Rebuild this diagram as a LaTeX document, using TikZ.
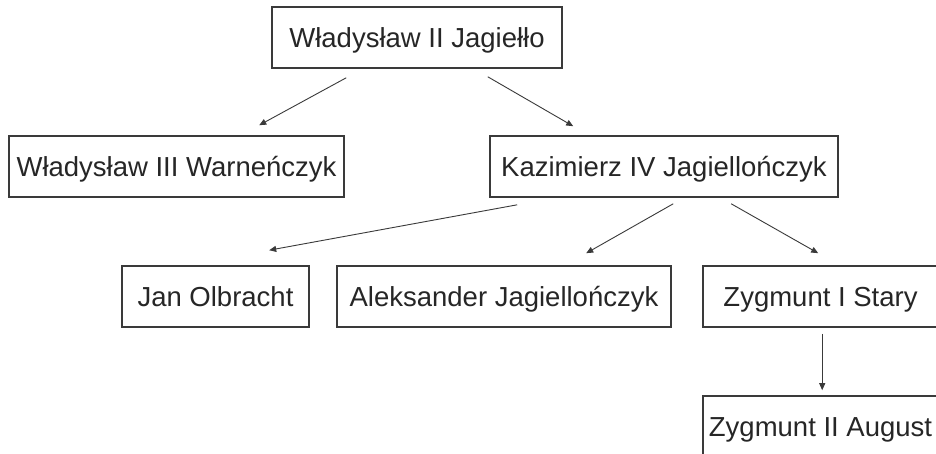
\documentclass[tikz,border=0pt]{standalone}
\usepackage{fontspec}
\setmainfont{Liberation Sans}
\usetikzlibrary{calc,arrows.meta}
\definecolor{boxline}{HTML}{3A3A3A}
\definecolor{txt}{HTML}{262626}
\tikzset{
  person/.style={draw=boxline, line width=1.6pt, rectangle, inner sep=0pt,
    minimum height=61pt, text=txt, font=\fontsize{27.5pt}{30pt}\selectfont,
    text height=19.7pt, text depth=0pt, anchor=center},
  arr/.style={draw=boxline, line width=0.9pt,
    -{Triangle[length=7pt,width=6pt]}}
}
\begin{document}
\begin{tikzpicture}[x=1pt,y=-1pt]
\useasboundingbox (0,0) rectangle (936,454);
\fill[white] (0,0) rectangle (936,454);
\node[person, minimum width=290pt] (top) at (417,37.5) {Władysław II Jagiełło};
\node[person, minimum width=335pt] (w3) at (176.5,166.5) {Władysław III Warneńczyk};
\node[person, minimum width=348pt] (kaz) at (664,166.5) {Kazimierz IV Jagiellończyk};
\node[person, minimum width=187pt] (jan) at (215.5,296.5) {Jan Olbracht};
\node[person, minimum width=334pt] (alek) at (504,296.5) {Aleksander Jagiellończyk};
\node[person, minimum width=235pt] (zyg1) at (820.5,296.5) {Zygmunt I Stary};
\node[person, minimum width=235pt] (zyg2) at (820.5,426.5) {Zygmunt II August};
\draw[arr] ($(top.south west)+(75,9)$) -- ($(w3.north west)+(251,-10)$);
\draw[arr] ($(top.south east)+(-75,8)$) -- ($(kaz.north west)+(84,-9)$);
\draw[arr] ($(kaz.south west)+(28,7)$) -- ($(jan.north west)+(148,-15)$);
\draw[arr] ($(kaz.south west)+(184,6)$) -- ($(alek.north west)+(250,-12)$);
\draw[arr] ($(kaz.south west)+(242,6)$) -- ($(zyg1.north west)+(116,-12)$);
\draw[arr] ($(zyg1.south west)+(120,6)$) -- ($(zyg2.north west)+(120,-5)$);
\end{tikzpicture}
\end{document}
